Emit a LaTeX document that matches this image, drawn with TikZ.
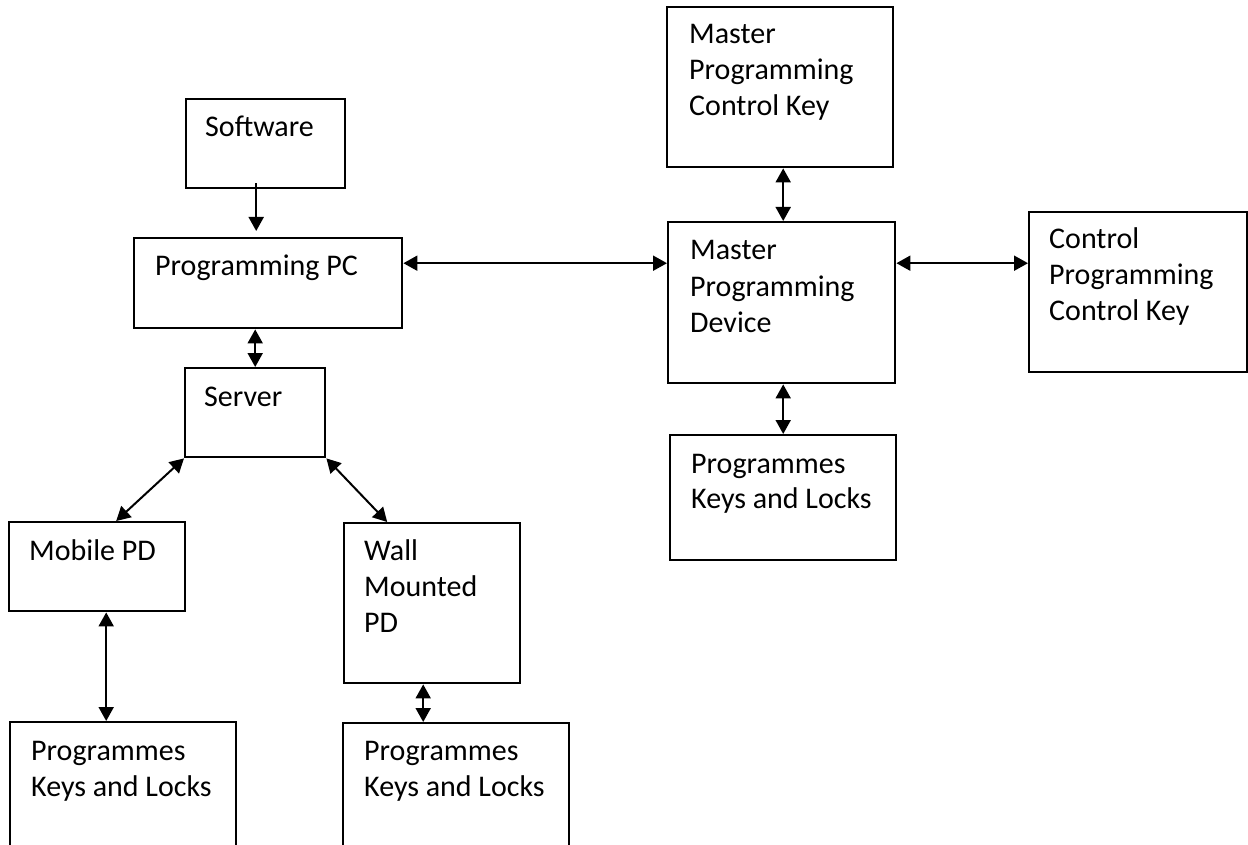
\documentclass[tikz,border=0pt]{standalone}
\usepackage{fontspec}
\setmainfont{Carlito}
\usetikzlibrary{arrows.meta}
\tikzset{
  box/.style={draw, line width=2.4pt, rectangle, inner sep=0pt, anchor=north west},
  txt/.style={inner sep=0pt, anchor=base west, font=\fontsize{30pt}{36pt}\selectfont},
  sarr/.style={line width=2pt, -{Triangle[length=14pt,width=15pt]}},
  darr/.style={line width=2pt, {Triangle[length=14pt,width=15pt]}-{Triangle[length=14pt,width=15pt]}}
}
\begin{document}
\begin{tikzpicture}[x=1pt,y=-1pt]
\useasboundingbox (0,0) rectangle (1248,845);
\clip (0,0) rectangle (1248,845);
% boxes
\node[box, minimum width=159pt, minimum height=89pt] (soft) at (185,98) {};
\node[box, minimum width=268pt, minimum height=90pt] (pc) at (133,237) {};
\node[box, minimum width=140pt, minimum height=89pt] (server) at (184,367) {};
\node[box, minimum width=176pt, minimum height=89pt] (mobile) at (8,521) {};
\node[box, minimum width=176pt, minimum height=160pt] (wall) at (343,522) {};
\node[box, minimum width=226pt, minimum height=160pt] (pkl1) at (9,721) {};
\node[box, minimum width=226pt, minimum height=160pt] (pkl2) at (342,722) {};
\node[box, minimum width=226pt, minimum height=160pt] (mpck) at (666,6) {};
\node[box, minimum width=227pt, minimum height=161pt] (mpd) at (667,221) {};
\node[box, minimum width=218pt, minimum height=160pt] (cpck) at (1028,211) {};
\node[box, minimum width=226pt, minimum height=125pt] (pkl3) at (669,434) {};
% texts
\node[txt] (soft-t) at (205,137) {Software};
\node[txt] (pc-t) at (155,276) {Programming PC};
\node[txt] (server-t) at (204,406) {Server};
\node[txt] (mobile-t) at (29,560) {Mobile PD};
\node[txt] (wall-t1) at (364,560) {Wall};
\node[txt] (wall-t2) at (364,596) {Mounted};
\node[txt] (wall-t3) at (364,632) {PD};
\node[txt] (pkl1-t1) at (31,760) {Programmes};
\node[txt] (pkl1-t2) at (31,796) {Keys and Locks};
\node[txt] (pkl2-t1) at (364,760) {Programmes};
\node[txt] (pkl2-t2) at (364,796) {Keys and Locks};
\node[txt] (pkl3-t1) at (691,473) {Programmes};
\node[txt] (pkl3-t2) at (691,508) {Keys and Locks};
\node[txt] (mpck-t1) at (689,44) {Master};
\node[txt] (mpck-t2) at (689,80) {Programming};
\node[txt] (mpck-t3) at (689,116) {Control Key};
\node[txt] (mpd-t1) at (690,260) {Master};
\node[txt] (mpd-t2) at (690,296) {Programming};
\node[txt] (mpd-t3) at (690,332) {Device};
\node[txt] (cpck-t1) at (1049,249) {Control};
\node[txt] (cpck-t2) at (1049,284) {Programming};
\node[txt] (cpck-t3) at (1049,320) {Control Key};
% connectors
\draw[sarr] ([xshift=-9.5pt,yshift=6pt]soft.south) -- ([xshift=-9.5pt,yshift=6pt]soft.south |- pc.north);
\draw[darr] (server.north |- pc.south) -- (server.north);
\draw[darr] ([yshift=20pt]pc.east) -- ([yshift=20pt]pc.east -| mpd.west);
\draw[darr] ([yshift=39.5pt]mpd.east) -- ([yshift=39.5pt]mpd.east -| cpck.west);
\draw[darr] ([xshift=1.5pt]mpd.north |- mpck.south) -- ([xshift=1.5pt]mpd.north);
\draw[darr] ([xshift=1.5pt]mpd.south) -- ([xshift=1.5pt]mpd.south |- pkl3.north);
\draw[darr] (server.south west) -- ([xshift=19pt]mobile.north);
\draw[darr] (server.south east) -- ([xshift=-45pt]wall.north);
\draw[darr] ([xshift=9pt]mobile.south) -- ([xshift=9pt]mobile.south |- pkl1.north);
\draw[darr] ([xshift=-9pt]wall.south) -- ([xshift=-9pt]wall.south |- pkl2.north);
\end{tikzpicture}
\end{document}
